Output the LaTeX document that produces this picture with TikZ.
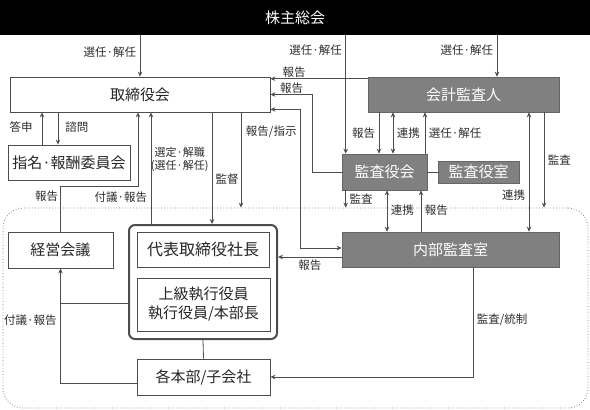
\documentclass[tikz,border=0pt]{standalone}
\usepackage{fontspec}
\setmainfont{Noto Sans CJK JP}
\usepackage{tikz}
\usetikzlibrary{arrows.meta,positioning}
\usepackage{xcolor}
\definecolor{boxgray}{RGB}{128,128,128}
\definecolor{linegray}{RGB}{77,77,77}
\definecolor{textgray}{RGB}{45,45,45}
\tikzstyle{arrow} = [line width=0.8pt,->,>={Stealth[length=5pt,width=4.5pt]},color=linegray]
\tikzstyle{link} = [line width=0.8pt,color=linegray]
\tikzstyle{whitebox} = [rectangle, draw=linegray, fill=white, line width=0.8pt, inner sep=0pt, text=black!85, font=\fontsize{15}{18}\selectfont]
\tikzstyle{graybox} = [rectangle, draw=gray!80!black, fill=boxgray, line width=0.6pt, inner sep=0pt, text=white, font=\fontsize{15}{18}\selectfont]
\tikzstyle{lbl} = [inner sep=3.5pt, text=textgray, font=\fontsize{11.5}{13.5}\selectfont]

\begin{document}
\begin{tikzpicture}[x=1pt,y=-1pt]
\useasboundingbox (0,0) rectangle (590,410);

% Execution area
\node[rectangle, draw=gray, dotted, line width=0.8pt, rounded corners=20pt, minimum width=585pt, minimum height=200pt] (area) at (295.5,308) {};

% Shareholders
\node[rectangle, fill=black, text=white, inner sep=0pt, minimum width=590pt, minimum height=35pt, font=\fontsize{15}{18}\selectfont] (kabunushi) at (295,17.5) {株主総会};

% Board level
\node[whitebox, minimum width=260pt, minimum height=35pt] (torishimari) at (140,94.5) {取締役会};
\node[graybox, minimum width=191pt, minimum height=35pt] (kaikei) at (463.5,94.5) {会計監査人};
\node[whitebox, minimum width=122pt, minimum height=35pt] (iinkai) at (69,162.5) {指名·報酬委員会};

% Auditors
\node[graybox, minimum width=85pt, minimum height=36pt] (kansayaku) at (384.5,172) {監査役会};
\node[graybox, minimum width=81pt, minimum height=22pt] (kansashitsu) at (478.5,172) {監査役室};
\node[graybox, minimum width=217pt, minimum height=35pt] (naibu) at (450.5,249.5) {内部監査室};

% Executives
\node[rectangle, draw=linegray, line width=2pt, rounded corners=6pt, minimum width=148pt, minimum height=114pt] (frame) at (203,282) {};
\node[whitebox, minimum width=132pt, minimum height=35pt, font=\fontsize{16}{19}\selectfont] (shacho) at (203,249.5) {代表取締役社長};
\node[whitebox, minimum width=133pt, minimum height=53pt, align=center, font=\fontsize{15}{19}\selectfont] (shikko) at (203.5,304.5) {上級執行役員\\執行役員/本部長};
\node[whitebox, minimum width=105pt, minimum height=36pt] (keiei) at (60.5,250) {経営会議};
\node[whitebox, minimum width=133pt, minimum height=36pt] (honbu) at (203.5,377) {各本部/子会社};

% Shareholders to boards
\draw[arrow] (kabunushi.south -| torishimari.north) -- node[lbl,left,pos=0.4] {選任·解任} (torishimari.north);
\draw[arrow] ([xshift=4pt]kansayaku.north west |- kabunushi.south) -- node[lbl,left,pos=0.13] {選任·解任} ([xshift=4pt]kansayaku.north west);
\draw[arrow] ([xshift=33.5pt]kaikei.north |- kabunushi.south) -- node[lbl,left,pos=0.36] {選任·解任} ([xshift=33.5pt]kaikei.north);

% Reports to the board
\draw[arrow] ([yshift=-2pt]kaikei.north west) -- node[lbl,above,pos=0.755,inner sep=1pt] {報告} ([yshift=-2pt]kaikei.north west -| torishimari.east);
\draw[arrow] (kansayaku.west) -- ++(-29,0) |- node[lbl,above,pos=0.75,inner sep=1pt] {報告} (torishimari.east);
\draw[arrow,<->] ([yshift=3pt]torishimari.south east) -- ++(30,0) |- node[lbl,left,pos=0.08] {報告/指示} ([yshift=1.5pt]naibu.west);

% Accounting auditor and audit board
\draw[arrow] ([xshift=-5.5pt]kansayaku.north |- kaikei.south) -- node[lbl,left] {報告} ([xshift=-5.5pt]kansayaku.north);
\draw[arrow,<->] ([xshift=8.5pt]kansayaku.north |- kaikei.south) -- node[lbl,right] {連携} ([xshift=8.5pt]kansayaku.north);
\draw[arrow] ([xshift=40.5pt]kansayaku.north) -- node[lbl,right] {選任·解任} ([xshift=40.5pt]kansayaku.north |- kaikei.south);
\draw[arrow,<->] ([xshift=65.5pt]kaikei.south) -- node[lbl,left,pos=0.69] {連携} ([xshift=65.5pt]kaikei.south |- naibu.north);
\draw[arrow] ([xshift=80.5pt]kaikei.south) -- node[lbl,right,pos=0.5] {監査} ([xshift=80.5pt]kaikei.south |- area.north);
\draw[link] (kansayaku) -- (kansashitsu);

% Audit board and internal audit
\draw[arrow] ([xshift=4pt]kansayaku.south west) -- node[lbl,right,pos=0.5] {監査} ([xshift=4pt]kansayaku.south west |- area.north);
\draw[arrow,<->] ([xshift=2.5pt]kansayaku.south) -- node[lbl,right,pos=0.48] {連携} ([xshift=2.5pt]kansayaku.south |- naibu.north);
\draw[arrow] ([xshift=36.5pt]kansayaku.south |- naibu.north) -- node[lbl,right,pos=0.52] {報告} ([xshift=36.5pt]kansayaku.south);
\draw[arrow] ([yshift=-7.5pt]naibu.west) -- node[lbl,below,inner sep=2pt] {報告} ([yshift=-7.5pt]naibu.west -| frame.east);
\draw[arrow] ([xshift=22.5pt]naibu.south) |- node[lbl,right,pos=0.24] {監査/統制} (honbu.east);

% Board and executives
\draw[arrow] ([xshift=72pt]torishimari.south) -- node[lbl,left,pos=0.42,align=center,inner sep=3pt,font=\fontsize{11}{13}\selectfont] {選定·解職\\(選任·解任)} ([xshift=72pt]torishimari.south |- frame.north);
\draw[arrow] ([xshift=101pt]torishimari.south) -- node[lbl,left,pos=0.7,inner sep=2pt] {監督} ([xshift=101pt]torishimari.south |- area.north);
\draw[arrow] ([xshift=-52pt]frame.north) -- node[lbl,left,pos=0.24] {付議·報告} ([xshift=-52pt]frame.north |- torishimari.south);
\draw[arrow] (keiei.north) -- node[lbl,left,pos=0.78,inner sep=2pt] {報告} ++(0,-45) -| ([xshift=-2pt]torishimari.south);

% Nomination committee
\draw[arrow] ([xshift=-82pt]torishimari.south) -- node[lbl,right,pos=0.45,inner sep=7pt] {諮問} ([xshift=-82pt]torishimari.south |- iinkai.north);
\draw[arrow] ([xshift=-98pt]torishimari.south |- iinkai.north) -- node[lbl,left,pos=0.55,inner sep=9pt] {答申} ([xshift=-98pt]torishimari.south);

% Divisions
\draw[arrow] ([yshift=-6pt]honbu.west) -| node[lbl,left,pos=0.774] {付議·報告} (keiei.south);
\draw[link] ([yshift=-21pt]frame.west) -- ([yshift=-21pt]frame.west -| keiei.south);
\draw[link] (frame.south) -- (honbu.north);
\end{tikzpicture}
\end{document}
